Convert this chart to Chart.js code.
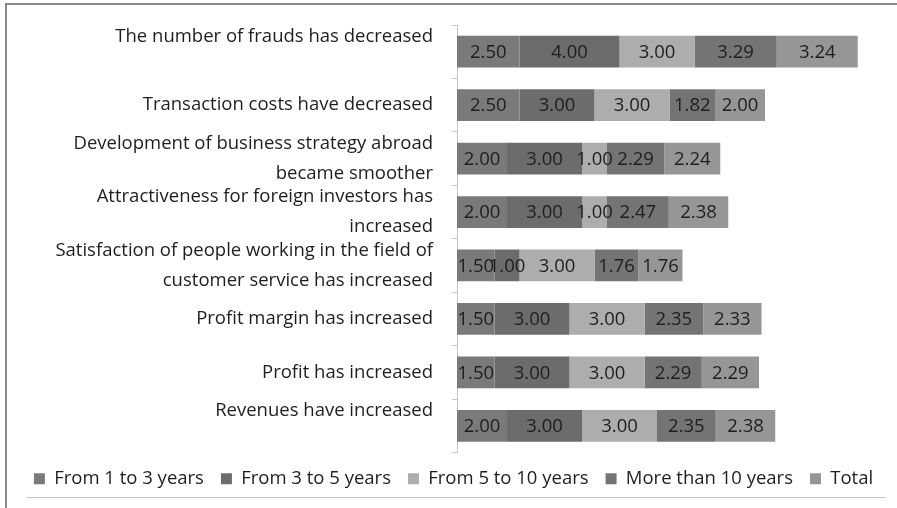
<!DOCTYPE html>
<html lang="en">
<head>
    <meta charset="UTF-8">
    <title>Business effects by years of experience</title>
    <script src="https://cdn.jsdelivr.net/npm/chart.js"></script>
    <style>
        body {
            margin: 0;
            background: #ffffff;
        }

        .frame {
            position: relative;
            width: 897px;
            height: 508px;
            overflow: hidden;
        }

        /* border lines of the scanned figure */
        .frame .top-line {
            position: absolute;
            left: 5px;
            top: 3px;
            width: 892px;
            height: 2px;
            background: #8a8a8a;
        }

        .frame .left-line {
            position: absolute;
            left: 5px;
            top: 3px;
            width: 2px;
            height: 505px;
            background: #8a8a8a;
        }

        .frame .bottom-line {
            position: absolute;
            left: 27px;
            top: 497px;
            width: 859px;
            height: 1px;
            background: #c4c4c4;
        }

        canvas {
            position: absolute;
            left: 0;
            top: 0;
        }
    </style>
</head>
<body>

    <div class="frame">
        <canvas id="barChart" width="897" height="508"></canvas>
        <div class="top-line"></div>
        <div class="left-line"></div>
        <div class="bottom-line"></div>
    </div>

    <script>
        // Categories (the empty second line on first/last keeps them raised like the original)
        const categories = [
            ['The number of frauds has decreased', ''],
            'Transaction costs have decreased',
            ['Development of business strategy abroad', 'became smoother'],
            ['Attractiveness for foreign investors has', 'increased'],
            ['Satisfaction of people working in the field of', 'customer service has increased'],
            'Profit margin has increased',
            'Profit has increased',
            ['Revenues have increased', '']
        ];

        const seriesNames = ['From 1 to 3 years', 'From 3 to 5 years', 'From 5 to 10 years', 'More than 10 years', 'Total'];

        const from1to3 = [2.50, 2.50, 2.00, 2.00, 1.50, 1.50, 1.50, 2.00];
        const from3to5 = [4.00, 3.00, 3.00, 3.00, 1.00, 3.00, 3.00, 3.00];
        const from5to10 = [3.00, 3.00, 1.00, 1.00, 3.00, 3.00, 3.00, 3.00];
        const moreThan10 = [3.29, 1.82, 2.29, 2.47, 1.76, 2.35, 2.29, 2.35];
        const total = [3.24, 2.00, 2.24, 2.38, 1.76, 2.33, 2.29, 2.38];

        const seriesColors = ['#7a7a7a', '#6c6c6c', '#adadad', '#747474', '#969696'];

        const fontFamily = "'Open Sans', sans-serif";

        // Valores dentro de cada segmento
        const valueLabels = {
            id: 'valueLabels',
            afterDatasetsDraw(chart) {
                const ctx = chart.ctx;
                ctx.save();
                ctx.font = '18.5px ' + fontFamily;
                ctx.fillStyle = '#1e1e1e';
                ctx.textAlign = 'center';
                ctx.textBaseline = 'middle';
                chart.data.datasets.forEach((ds, i) => {
                    chart.getDatasetMeta(i).data.forEach((bar, j) => {
                        const cx = (bar.x + bar.base) / 2;
                        ctx.fillText(ds.data[j].toFixed(2), cx, bar.y + 1);
                    });
                });
                ctx.restore();
            }
        };

        const seriesData = [from1to3, from3to5, from5to10, moreThan10, total];

        const barCtx = document.getElementById('barChart').getContext('2d');
        new Chart(barCtx, {
            type: 'bar',
            data: {
                labels: categories,
                datasets: seriesNames.map((name, i) => ({
                    label: name,
                    data: seriesData[i],
                    backgroundColor: seriesColors[i],
                    borderWidth: 0,
                    categoryPercentage: 1,
                    barPercentage: 0.595
                }))
            },
            options: {
                indexAxis: 'y',
                responsive: false,
                animation: false,
                layout: {
                    padding: { top: 25, left: 10, right: 0, bottom: 10 }
                },
                scales: {
                    x: {
                        stacked: true,
                        display: false,
                        min: 0,
                        max: 17.6
                    },
                    y: {
                        stacked: true,
                        afterFit: (scale) => {
                            scale.width = 447;
                            scale.paddingTop = 0;
                            scale.paddingBottom = 0;
                        },
                        border: { display: true, color: '#c8c8c8', width: 1 },
                        grid: {
                            offset: true,
                            drawOnChartArea: false,
                            drawTicks: true,
                            tickLength: 5,
                            color: '#c8c8c8'
                        },
                        ticks: {
                            autoSkip: false,
                            padding: 19,
                            color: '#1e1e1e',
                            font: { family: fontFamily, size: 18.5, lineHeight: 1.6 }
                        }
                    }
                },
                plugins: {
                    legend: {
                        position: 'bottom',
                        labels: {
                            boxWidth: 11,
                            boxHeight: 11,
                            padding: 17,
                            color: '#1e1e1e',
                            font: { family: fontFamily, size: 18.5 }
                        }
                    },
                    tooltip: { enabled: false }
                }
            },
            plugins: [valueLabels]
        });
    </script>
</body>
</html>
